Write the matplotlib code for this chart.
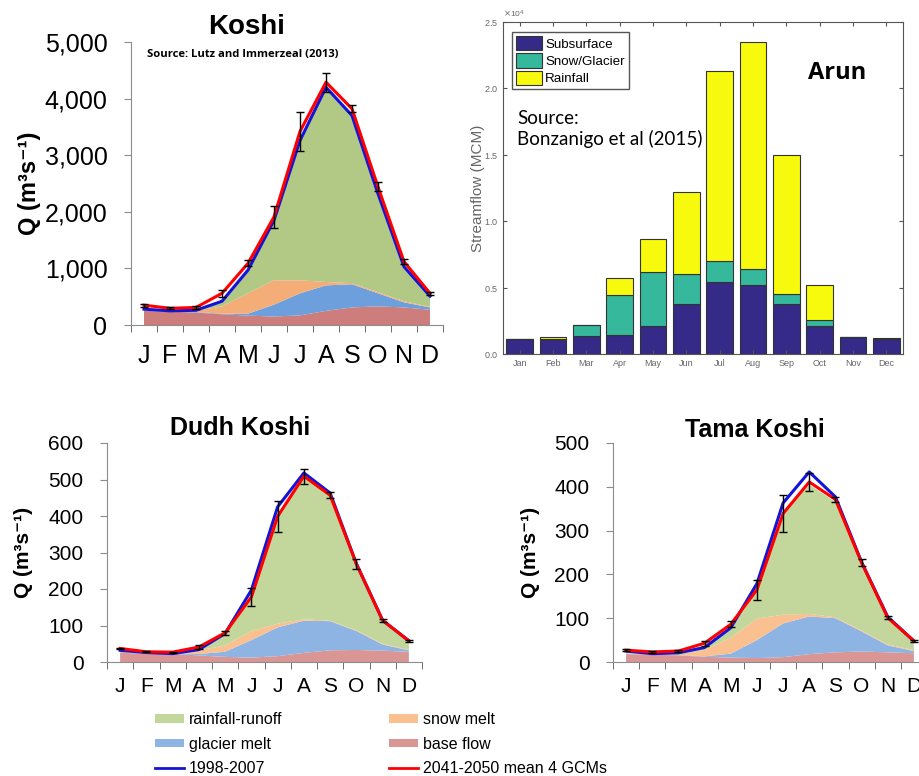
# Koshi basin flow components - four panel figure

import matplotlib.pyplot as plt
from matplotlib.patches import Patch
from matplotlib.lines import Line2D
from matplotlib.ticker import FuncFormatter

plt.rcParams['font.family'] = ['Liberation Sans', 'DejaVu Sans']

months = ['J', 'F', 'M', 'A', 'M', 'J', 'J', 'A', 'S', 'O', 'N', 'D']
arun_months = ['Jan', 'Feb', 'Mar', 'Apr', 'May', 'Jun', 'Jul', 'Aug', 'Sep', 'Oct', 'Nov', 'Dec']

# Koshi (m3/s)
koshi_base = [250, 235, 220, 190, 165, 150, 170, 250, 310, 330, 310, 270]
koshi_glacier = [5, 5, 10, 10, 35, 210, 390, 450, 410, 230, 90, 40]
koshi_snow = [10, 5, 20, 130, 360, 430, 230, 60, 20, 20, 20, 10]
koshi_rain = [15, 5, 10, 90, 410, 1060, 2470, 3440, 2960, 1740, 610, 190]
koshi_hist = [280, 250, 260, 420, 970, 1850, 3260, 4200, 3700, 2320, 1030, 510]
koshi_fut = [350, 295, 310, 560, 1090, 1910, 3420, 4290, 3820, 2440, 1120, 560]
koshi_err = [25, 20, 20, 60, 50, 200, 350, 170, 60, 80, 40, 30]

# Dudh Koshi
dudh_base = [25, 23, 22, 18, 14, 12, 16, 25, 32, 33, 31, 28]
dudh_glacier = [2, 1, 2, 4, 14, 48, 79, 88, 80, 52, 17, 4]
dudh_snow = [2, 2, 2, 10, 17, 25, 10, 4, 1, 2, 2, 1]
dudh_rain = [5, 1, 1, 6, 33, 93, 294, 392, 342, 182, 64, 25]
dudh_hist = [32, 26, 23, 34, 78, 197, 425, 518, 463, 269, 114, 58]
dudh_fut = [37, 28, 27, 41, 80, 178, 399, 509, 457, 269, 114, 58]
dudh_err = [2, 1, 1, 6, 5, 25, 43, 20, 8, 13, 5, 3]

# Tama Koshi
tama_base = [18, 17, 15, 12, 10, 9, 11, 18, 22, 24, 22, 20]
tama_glacier = [1, 0, 1, 1, 9, 41, 77, 86, 78, 46, 16, 5]
tama_snow = [1, 1, 2, 15, 36, 49, 20, 6, 2, 2, 2, 2]
tama_rain = [5, 3, 4, 10, 25, 66, 231, 295, 263, 153, 60, 20]
tama_hist = [25, 19, 21, 33, 78, 179, 363, 434, 377, 228, 103, 48]
tama_fut = [27, 23, 25, 43, 86, 165, 339, 411, 371, 227, 101, 48]
tama_err = [2, 2, 2, 6, 7, 23, 43, 20, 5, 8, 3, 3]

# Arun streamflow (MCM)
arun_sub = [1130, 1100, 1380, 1450, 2130, 3760, 5410, 5210, 3760, 2130, 1250, 1130]
arun_snow = [0, 50, 770, 3010, 4030, 2300, 1630, 1200, 750, 400, 30, 0]
arun_rain = [20, 100, 50, 1250, 2480, 6160, 14250, 17060, 10470, 2680, 20, 70]

c_rain, c_snow, c_glac, c_base = '#C3D69B', '#FAC090', '#8EB4E3', '#D99694'
k_colors = ['#CD7D7B', '#6E9FDD', '#F5AD78', '#B2C985']
c_hist, c_fut = '#1414D8', '#FF0000'

fig = plt.figure(figsize=(9.19, 7.76), dpi=100)


def area_panel(ax, comps, hist, fut, err, colors, ymax, step, fs, fmt=None):
    x = list(range(12))
    ax.stackplot(x, *comps, colors=colors, lw=0)
    ax.plot(x, hist, color=c_hist, lw=2.2)
    ax.plot(x, fut, color=c_fut, lw=2.2)
    ax.errorbar(x, fut, yerr=err, fmt='none', ecolor='k', elinewidth=1, capsize=3, capthick=1)
    ax.set_xlim(-0.5, 11.5)
    ax.set_ylim(0, ymax)
    ax.set_yticks(range(0, ymax + 1, step))
    if fmt:
        ax.yaxis.set_major_formatter(FuncFormatter(fmt))
    ax.set_xticks(x)
    ax.set_xticklabels(months)
    ax.set_xticks([i - 0.5 for i in range(13)], minor=True)
    for s in ['top', 'right']:
        ax.spines[s].set_visible(False)
    for s in ['left', 'bottom']:
        ax.spines[s].set_color('#8c8c8c')
    ax.tick_params(axis='x', which='major', length=0, labelsize=fs)
    ax.tick_params(axis='x', which='minor', length=5, color='#555555')
    ax.tick_params(axis='y', length=5, color='#8c8c8c', labelsize=fs, pad=12)


# Koshi
ax1 = fig.add_axes([131 / 919, 1 - 325 / 776, 312 / 919, 283 / 776])
area_panel(ax1, [koshi_base, koshi_glacier, koshi_snow, koshi_rain], koshi_hist, koshi_fut,
           koshi_err, k_colors, 5000, 1000, 18, fmt=lambda v, p: '{:,.0f}'.format(v))
ax1.tick_params(axis='x', which='major', pad=14)
ax1.set_ylabel('Q (m³s⁻¹)', fontsize=17, fontweight='bold')
ax1.yaxis.set_label_coords(-0.29, 0.5)
fig.text(247 / 919, 1 - 27 / 776, 'Koshi', ha='center', va='center', fontsize=20, fontweight='bold')
fig.text(147 / 919, 1 - 55 / 776, 'Source: Lutz and Immerzeal (2013)', ha='left', va='center',
         fontsize=8.1, fontweight='bold', family=['Open Sans', 'DejaVu Sans'])

# Dudh Koshi
ax3 = fig.add_axes([107 / 919, 114 / 776, 315 / 919, 219 / 776])
area_panel(ax3, [dudh_base, dudh_glacier, dudh_snow, dudh_rain], dudh_hist, dudh_fut,
           dudh_err, [c_base, c_glac, c_snow, c_rain], 600, 100, 15)
ax3.tick_params(axis='x', which='major', pad=11)
ax3.set_ylabel('Q (m³s⁻¹)', fontsize=15, fontweight='bold')
ax3.yaxis.set_label_coords(-0.235, 0.5)
fig.text(240 / 919, 1 - 428 / 776, 'Dudh Koshi', ha='center', va='center', fontsize=18, fontweight='bold')

# Tama Koshi
ax4 = fig.add_axes([613 / 919, 114 / 776, 314 / 919, 219 / 776])
area_panel(ax4, [tama_base, tama_glacier, tama_snow, tama_rain], tama_hist, tama_fut,
           tama_err, [c_base, c_glac, c_snow, c_rain], 500, 100, 15)
ax4.tick_params(axis='x', which='major', pad=11)
ax4.set_ylabel('Q (m³s⁻¹)', fontsize=15, fontweight='bold')
ax4.yaxis.set_label_coords(-0.232, 0.5)
fig.text(755 / 919, 1 - 430 / 776, 'Tama Koshi', ha='center', va='center', fontsize=18, fontweight='bold')

# Arun stacked bars
ax2 = fig.add_axes([503 / 919, 1 - 354 / 776, 400 / 919, 332 / 776])
xb = list(range(1, 13))
bot2 = [a + b for a, b in zip(arun_sub, arun_snow)]
ax2.bar(xb, arun_sub, width=0.8, color='#352A87', edgecolor='#333333', lw=0.8, label='Subsurface')
ax2.bar(xb, arun_snow, width=0.8, bottom=arun_sub, color='#36B89D', edgecolor='#333333', lw=0.8,
        label='Snow/Glacier')
ax2.bar(xb, arun_rain, width=0.8, bottom=bot2, color='#F8FA0D', edgecolor='#333333', lw=0.8,
        label='Rainfall')
ax2.set_xlim(0.5, 12.5)
ax2.set_ylim(0, 25000)
ax2.set_yticks([0, 5000, 10000, 15000, 20000, 25000])
ax2.ticklabel_format(axis='y', style='sci', scilimits=(4, 4), useMathText=True)
ax2.yaxis.get_offset_text().set_fontsize(6)
ax2.yaxis.get_offset_text().set_color('#666666')
ax2.set_xticks(xb)
ax2.set_xticklabels(arun_months)
ax2.tick_params(direction='in', top=True, right=True, length=3, labelsize=6.5,
                labelcolor='#666666', color='#555555')
for s in ax2.spines.values():
    s.set_color('#555555')
ax2.set_ylabel('Streamflow (MCM)', fontsize=11, color='#666666')
ax2.yaxis.set_label_coords(-0.045, 0.5)
leg2 = ax2.legend(loc='upper left', bbox_to_anchor=(0.022, 0.97), borderaxespad=0, fontsize=9.6,
                  handlelength=2.0, handleheight=1.3, handletextpad=0.2, labelspacing=0.2,
                  borderpad=0.3, fancybox=False, edgecolor='#555555', framealpha=1)
ax2.text(0.835, 0.845, 'Arun', transform=ax2.transAxes, ha='center', va='center',
         fontsize=17, fontweight='bold', family=['Open Sans', 'DejaVu Sans'])
ax2.text(0.035, 0.678, 'Source:\nBonzanigo et al (2015)', transform=ax2.transAxes, ha='left',
         va='center', fontsize=13.5, linespacing=1.2, family=['Lato', 'DejaVu Sans'])

# shared legend
handles = [Patch(facecolor=c_rain), Patch(facecolor=c_glac), Line2D([], [], color=c_hist, lw=2),
           Patch(facecolor=c_snow), Patch(facecolor=c_base), Line2D([], [], color=c_fut, lw=2)]
labels = ['rainfall-runoff', 'glacier melt', '1998-2007', 'snow melt', 'base flow',
          '2041-2050 mean 4 GCMs']
fig.legend(handles, labels, loc='upper left', bbox_to_anchor=(155 / 919, 1 - 712 / 776), ncol=2,
           frameon=False, fontsize=11.5, handlelength=1.8, handleheight=0.45, handletextpad=0.3,
           columnspacing=6.7, labelspacing=0.6, borderpad=0, borderaxespad=0)

fig.savefig('out.png', dpi=100)
